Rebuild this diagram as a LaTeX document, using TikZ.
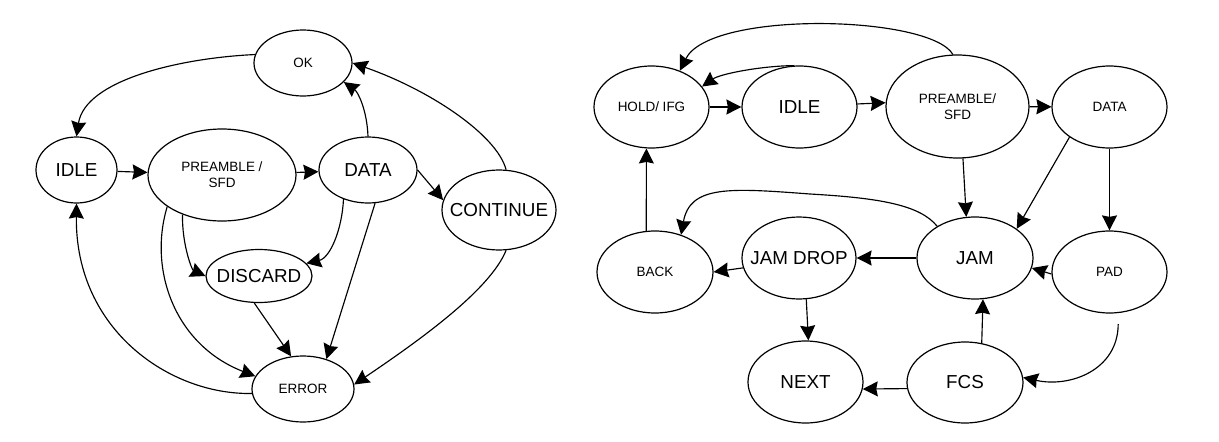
\documentclass[tikz,border=0pt]{standalone}
\usepackage{fontspec}
\setmainfont{Liberation Sans}
\usetikzlibrary{shapes.geometric,arrows.meta}
\newcommand{\tx}[1]{\makebox[0pt]{#1}}
\begin{document}
\begin{tikzpicture}[x=1pt,y=-1pt,line width=1.15pt,->,>={Stealth[length=15pt,width=15pt,inset=1.5pt]}]
    \tikzstyle{state}=[draw,shape=ellipse,inner sep=0pt,align=center,line width=1.2pt]
    \tikzstyle{big}=[font=\fontsize{18.8}{21}\selectfont]
    \tikzstyle{small}=[font=\fontsize{13.5}{16}\selectfont]
    \useasboundingbox (0,0) rectangle (1219,442);

    % left machine
    \node[state,small,minimum width=98,minimum height=66](ok) at (303,63){\tx{OK}};
    \node[state,big,minimum width=81,minimum height=66](idle) at (76.5,170){\tx{IDLE}};
    \node[state,small,minimum width=148,minimum height=92](pre) at (222,175){\tx{PREAMBLE /}\\\tx{SFD}};
    \node[state,big,minimum width=98,minimum height=66](data) at (368,170){\tx{DATA}};
    \node[state,big,minimum width=114,minimum height=80](cont) at (499,210){\tx{CONTINUE}};
    \node[state,big,minimum width=106,minimum height=53](disc) at (259,276){\tx{DISCARD}};
    \node[state,small,minimum width=102,minimum height=66](err) at (303,389){\tx{ERROR}};

    \draw (ok.170) .. controls (180,58) and (85,80) .. (idle.north);
    \draw (idle) -- (pre);
    \draw (pre) -- (data);
    \draw (data.north) .. controls (367,110) and (358,92) .. (ok.-25);
    \draw (cont.80) .. controls (497,135) and (430,90) .. (ok.east);
    \draw (data.east) -- (cont.170);
    \draw (pre.-135) .. controls (182,245) and (192,270) .. (disc.west);
    \draw (data.-130) .. controls (342,230) and (330,258) .. (disc.15);
    \draw (data.-78) -- (err.52);
    \draw (disc.-100) -- (err.110);
    \draw (pre.-150) .. controls (148,270) and (175,345) .. (err.165);
    \draw (err.185) .. controls (170,395) and (75,330) .. (idle.south);
    \draw (cont.-80) .. controls (490,290) and (420,340) .. (err.5);

    % right machine
    \node[state,small,minimum width=115,minimum height=82](hold) at (651.5,107){\tx{HOLD/ IFG}};
    \node[state,big,minimum width=115,minimum height=82](ridle) at (799.5,107){\tx{IDLE}};
    \node[state,small,minimum width=143,minimum height=103](rpre) at (957.5,106.5){\tx{PREAMBLE/}\\\tx{SFD}};
    \node[state,small,minimum width=115,minimum height=82](rdata) at (1109.5,107){\tx{DATA}};
    \node[state,big,minimum width=116,minimum height=82](jam) at (975,258){\tx{JAM}};
    \node[state,small,minimum width=115,minimum height=82](pad) at (1109.5,272){\tx{PAD}};
    \node[state,small,minimum width=116,minimum height=82](back) at (655,272){\tx{BACK}};
    \node[state,big,minimum width=114,minimum height=82](jdrop) at (799,258){\tx{JAM DROP}};
    \node[state,big,minimum width=115,minimum height=82](next) at (805.5,382){\tx{NEXT}};
    \node[state,big,minimum width=116,minimum height=81](fcs) at (965,382.5){\tx{FCS}};

    \draw (hold) -- (ridle);
    \draw (ridle.3) -- (rpre.177);
    \draw (rpre) -- (rdata);
    \draw (ridle.97) .. controls (760,66) and (720,74) .. (hold.22);
    \draw (rpre.95) .. controls (930,15) and (710,10) .. (hold.52);
    \draw (back.102) -- (hold.-97);
    \draw (jam.140) .. controls (920,205) and (880,198) .. (810,194)
        .. controls (730,188) and (690,185) .. (back.55);
    \draw (rpre.-84) -- (jam.102);
    \draw (rdata.-143) -- (jam.35);
    \draw (rdata) -- (pad);
    \draw (pad.182) -- (jam.-10);
    \draw (jam) -- (jdrop);
    \draw (jdrop.190) -- (back.east);
    \draw (jdrop.-80) -- (next.86);
    \draw (fcs.186) -- (next.-7);
    \draw (fcs.67) -- (jam.-79);
    \draw[shorten <=11pt] (pad.-78) .. controls (1118,370) and (1070,388) .. (fcs.5);
\end{tikzpicture}
\end{document}
